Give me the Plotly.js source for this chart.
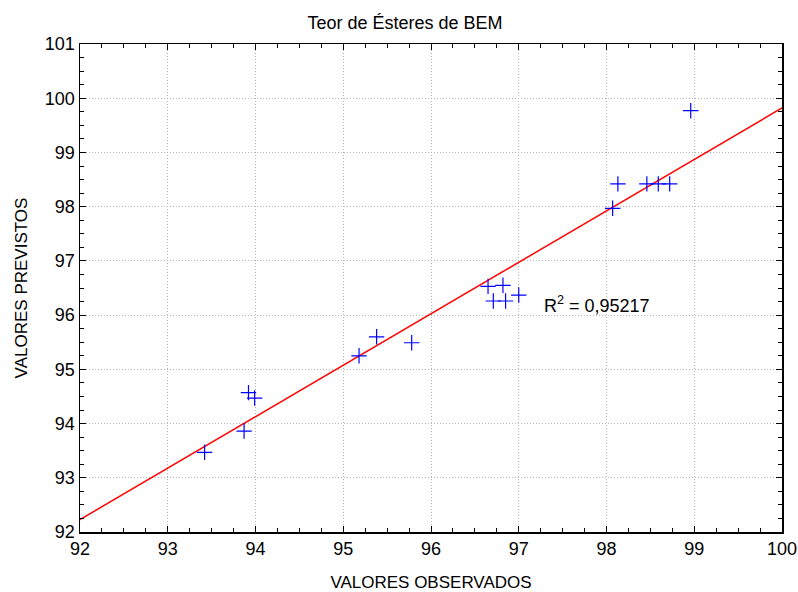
<!DOCTYPE html>
<html>
<head>
<meta charset="utf-8">
<script src="https://cdn.plot.ly/plotly-3.0.1.min.js"></script>
<style>html,body{margin:0;padding:0;background:#fff;}#chart{width:798px;height:592px;}</style>
</head>
<body>
<div id="chart"></div>
<script>
var observed = [93.42, 93.87, 93.92, 93.99, 95.18, 95.38, 95.78, 96.65, 96.82, 96.71, 96.85, 97.00, 98.07, 98.13, 98.46, 98.59, 98.72, 98.96];
var predicted = [93.47, 93.86, 94.57, 94.47, 95.25, 95.60, 95.49, 96.53, 96.55, 96.26, 96.26, 96.37, 97.97, 98.42, 98.42, 98.42, 98.42, 99.77];
var fitX = [92, 100];
var fitY = [92.23, 99.82];
var r2Text = 'R<sup>2</sup> = 0,95217';
var r2Pos = [97.27, 96.19];

var FONT = 'Liberation Sans, Arial, sans-serif';

var traces = [
  {x: fitX, y: fitY, mode: 'lines', line: {color: '#ff0000', width: 1.5}, hoverinfo: 'skip'},
  {x: observed, y: predicted, mode: 'markers',
   marker: {symbol: 'cross-thin-open', size: 11, color: '#0000ff', line: {color: '#0000ff', width: 1.2}}}
];

var axisCommon = {
  showline: true, linecolor: '#000', linewidth: 1.5, mirror: 'ticks',
  ticks: 'inside', ticklen: 6, tickcolor: '#000', tickwidth: 1,
  showgrid: true, gridcolor: '#b4b4b4', griddash: '1px,2px', gridwidth: 1,
  zeroline: false, dtick: 1,
  tickfont: {family: FONT, size: 18, color: '#000'},
  minor: {dtick: 0.25, ticks: 'inside', ticklen: 4, tickcolor: '#000', showgrid: false},
  automargin: false
};

var layout = {
  width: 798, height: 592,
  margin: {l: 80, r: 16, t: 44, b: 60},
  paper_bgcolor: '#fff', plot_bgcolor: '#fff',
  showlegend: false,
  title: {text: 'Teor de Ésteres de BEM', x: 0.5075, xanchor: 'center', y: 0.961, yanchor: 'middle',
          font: {family: FONT, size: 18, color: '#000'}},
  xaxis: Object.assign({}, axisCommon, {range: [92, 100],
    title: {text: 'VALORES OBSERVADOS', standoff: 20, font: {family: FONT, size: 17, color: '#000'}}}),
  yaxis: Object.assign({}, axisCommon, {range: [92, 101],
    title: {text: 'VALORES PREVISTOS', standoff: 13, font: {family: FONT, size: 17, color: '#000'}}}),
  annotations: [{x: r2Pos[0], y: r2Pos[1], xref: 'x', yref: 'y', text: r2Text, showarrow: false,
    xanchor: 'left', yanchor: 'middle', font: {family: FONT, size: 18, color: '#000'}}]
};

Plotly.newPlot('chart', traces, layout, {displayModeBar: false, staticPlot: true});
</script>
</body>
</html>
